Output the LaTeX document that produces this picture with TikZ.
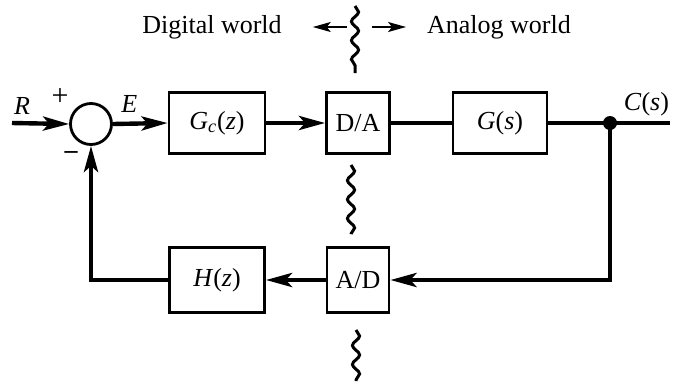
\documentclass[tikz,border=0pt]{standalone}
\usepackage{fontspec}
\setmainfont{Liberation Serif}
\usetikzlibrary{arrows.meta,calc,positioning,decorations.pathmorphing}

\newcommand{\sv}[1]{\textit{#1}}   % italic signal letters

\begin{document}
\begin{tikzpicture}[>={Stealth[length=13pt,width=7pt,inset=3pt]},   % arrow style
                    x=0.5pt, y=-0.5pt,                      % pixel grid, y down
                    every node/.style={font=\fontsize{13}{15}\selectfont},
                    block/.style={draw, line width=1.4pt, minimum height=30.5pt, inner sep=0pt},
                    sig/.style={line width=2.2pt},
                    thinarrow/.style={line width=0.9pt, >={Stealth[length=9pt,width=5pt,inset=2pt]}},
                    wavy/.style={line width=1.5pt, decorate,
                                 decoration={snake, segment length=9.5pt, amplitude=1.8pt}}]

\useasboundingbox (0,0) rectangle (674,381);

% ---------------------------------------------------------------
% Key points
\coordinate (in)   at (12,123);     % input R
\coordinate (junc) at (610,123);    % take-off point
\coordinate (out)  at (670,123);    % output C(s)

% ---------------------------------------------------------------
% Blocks
\node[circle, draw, line width=1.4pt, minimum size=20.5pt, inner sep=0pt] (sum) at (91,124) {};
\node[block, minimum width=48pt]   (gc) at (217,123) {\sv{G}\textsubscript{\sv{c}}(\sv{z})};
\node[block, minimum width=31.5pt] (da) at (358,123) {D/A};
\node[block, minimum width=47pt]   (gs) at (500,123) {\sv{G}(\sv{s})};
\node[block, minimum width=31pt, minimum height=32.5pt]   (ad) at (358,280) {A/D};
\node[block, minimum width=47.5pt, minimum height=32.5pt] (hz) at (217,280) {\sv{H}(\sv{z})};

% Forward path
\draw[sig,->] (in) -- (sum.west);
\draw[sig,->] (sum.east) -- (gc.west) node[pos=0.3,above=1pt] {\sv{E}};
\draw[sig,->] (gc) -- (da);
\draw[sig]    (da) -- (gs);
\draw[sig]    (gs.east) -- (out);

% Feedback path
\draw[sig,->] (junc) |- (ad.east);
\draw[sig,->] (ad) -- (hz);
\draw[sig,->] (hz.west) -| (sum.south);
\fill (junc) circle (3.5pt);

% Signs and signal labels
\node at (22,106) {\sv{R}};
\node at (60,97)  {\fontsize{15}{15}\selectfont +};
\node at (71,155) {\bfseries –};
\node[anchor=east] at (676,104) {\sv{C}(\sv{s})};

% ---------------------------------------------------------------
% Digital / analog boundary
\draw[wavy] (355,6)   -- (355,73);
\draw[wavy] (351,165) -- (351,234);
\draw[wavy] (356,330) -- (356,381);

\node (dig) at (212,27) {Digital world};
\node (ana) at (499,27) {Analog world};
\coordinate (dl) at (347,27);
\coordinate (dr) at (372,27);
\draw[thinarrow,->] (dl) -- ($(dig.east)+(24,0)$);
\draw[thinarrow,->] (dr) -- ($(ana.west)+(-14,0)$);

\end{tikzpicture}
\end{document}
